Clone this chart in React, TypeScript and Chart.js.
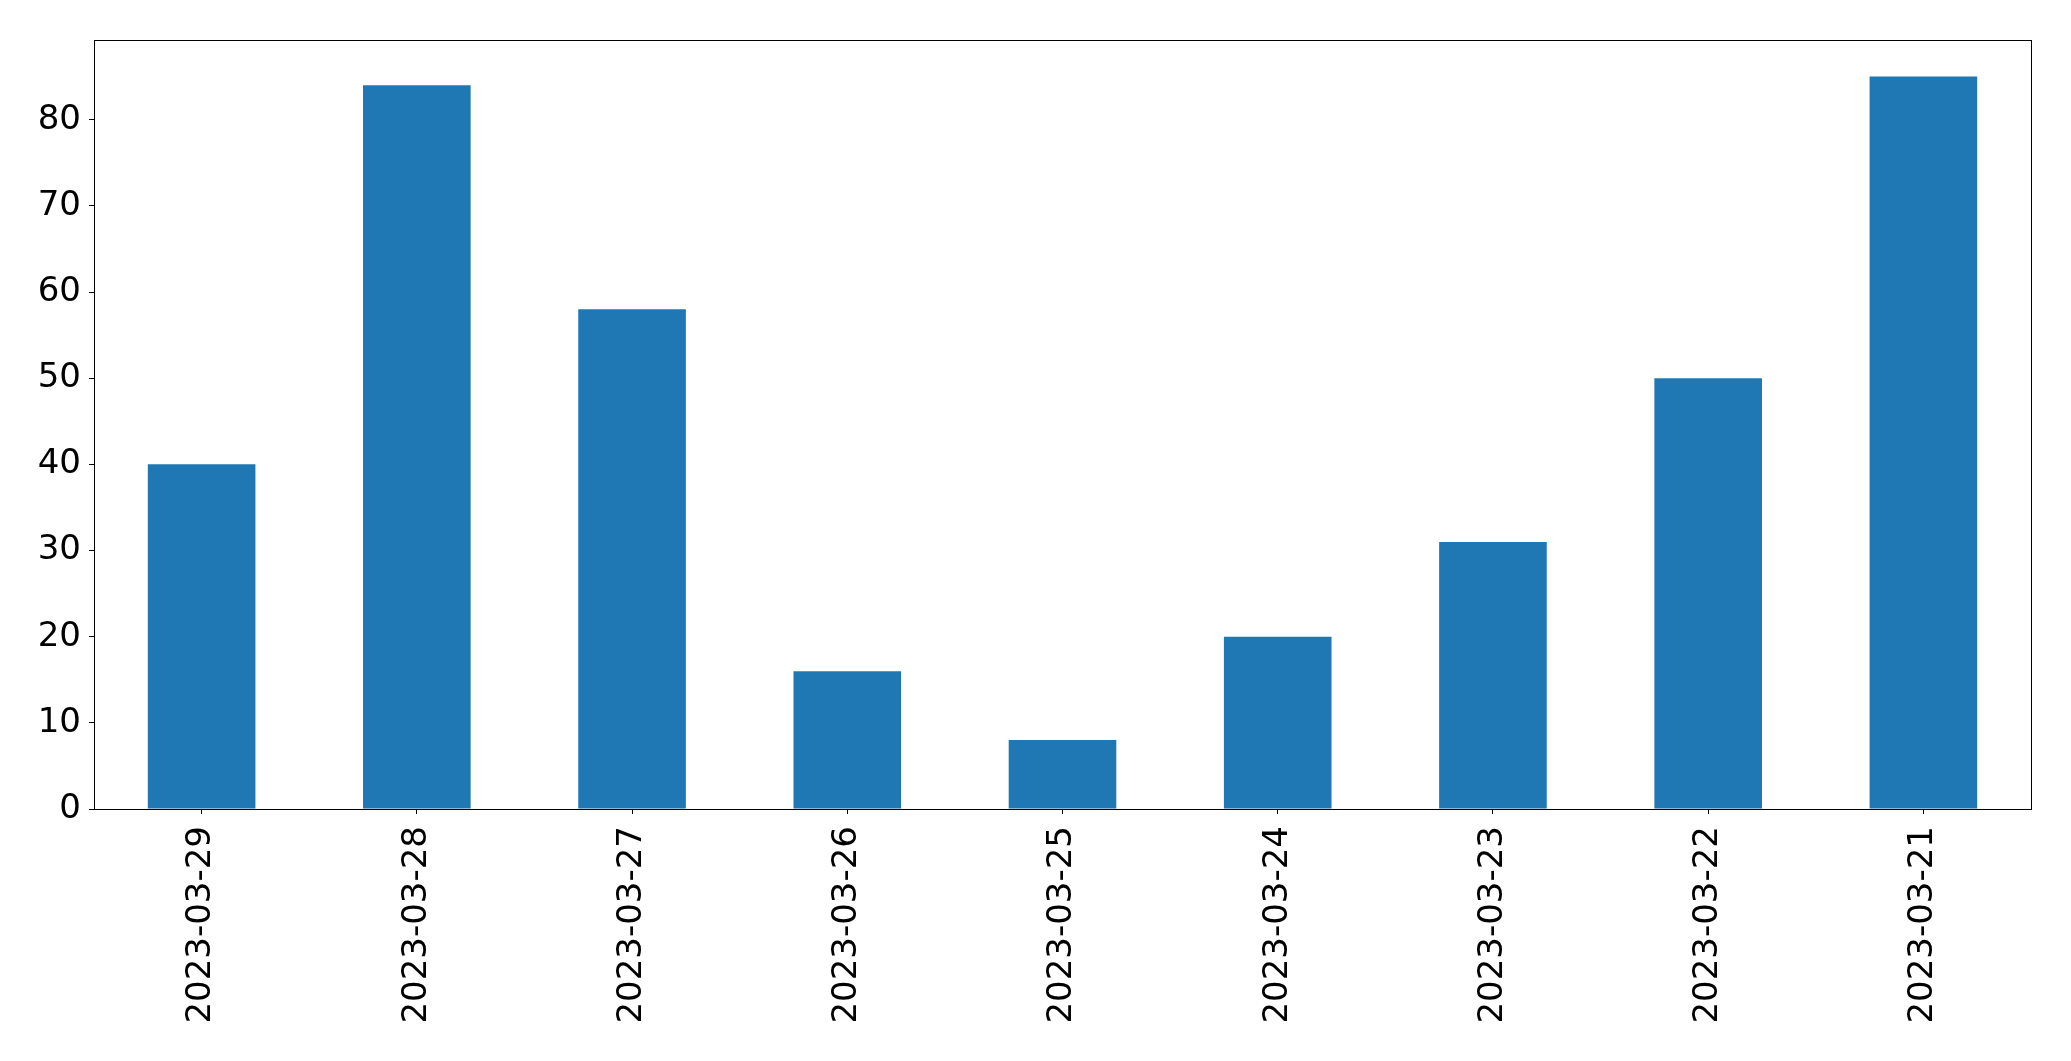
import React, { useEffect, useRef } from "react";
import { Chart, registerables } from "chart.js";

Chart.register(...registerables);

const categories = [
  "2023-03-29",
  "2023-03-28",
  "2023-03-27",
  "2023-03-26",
  "2023-03-25",
  "2023-03-24",
  "2023-03-23",
  "2023-03-22",
  "2023-03-21",
];
const values = [40, 84, 58, 16, 8, 20, 31, 50, 85];
const yTicks = [0, 10, 20, 30, 40, 50, 60, 70, 80];
const yMax = 89.25;

const frame = {
  id: "frame",
  afterDraw(chart: any) {
    const { ctx, chartArea } = chart;
    ctx.save();
    ctx.strokeStyle = "#000";
    ctx.lineWidth = 1;
    ctx.strokeRect(
      Math.round(chartArea.left) + 0.5,
      Math.round(chartArea.top) + 0.5,
      Math.round(chartArea.right - chartArea.left),
      Math.round(chartArea.bottom - chartArea.top)
    );
    ctx.restore();
  },
};

export default function App() {
  const ref = useRef<HTMLCanvasElement | null>(null);
  useEffect(() => {
    document.body.style.margin = "0";
    const font = { family: "'DejaVu Sans', sans-serif", size: 34 };
    const chart = new Chart(ref.current as HTMLCanvasElement, {
      type: "bar",
      data: {
        labels: categories,
        datasets: [
          {
            data: values,
            backgroundColor: "#1f77b4",
            borderWidth: 0,
            barPercentage: 0.5,
            categoryPercentage: 1,
          },
        ],
      },
      options: {
        responsive: false,
        animation: false,
        devicePixelRatio: 1,
        layout: { padding: { top: 40, right: 40, left: 0, bottom: 0 } },
        plugins: {
          legend: { display: false },
          tooltip: { enabled: false },
        },
        scales: {
          x: {
            offset: true,
            grid: {
              display: true,
              drawOnChartArea: false,
              drawTicks: true,
              tickLength: 5,
              tickWidth: 1,
              tickColor: "#000",
              offset: false,
            },
            border: { display: true, color: "#000", width: 1 },
            ticks: {
              color: "#000",
              font,
              maxRotation: 90,
              minRotation: 90,
              padding: 12,
              autoSkip: false,
            },
            afterFit: (s: any) => {
              s.height = 252;
            },
          },
          y: {
            min: 0,
            max: yMax,
            grid: {
              display: true,
              drawOnChartArea: false,
              drawTicks: true,
              tickLength: 5,
              tickWidth: 1,
              tickColor: "#000",
            },
            border: { display: true, color: "#000", width: 1 },
            ticks: { color: "#000", font, padding: 8 },
            afterBuildTicks: (s: any) => {
              s.ticks = yTicks.map((v) => ({ value: v }));
            },
            afterFit: (s: any) => {
              s.width = 94;
            },
          },
        },
      },
      plugins: [frame],
    });
    return () => chart.destroy();
  }, []);
  return <canvas ref={ref} width={2071} height={1061} style={{ display: "block" }} />;
}
